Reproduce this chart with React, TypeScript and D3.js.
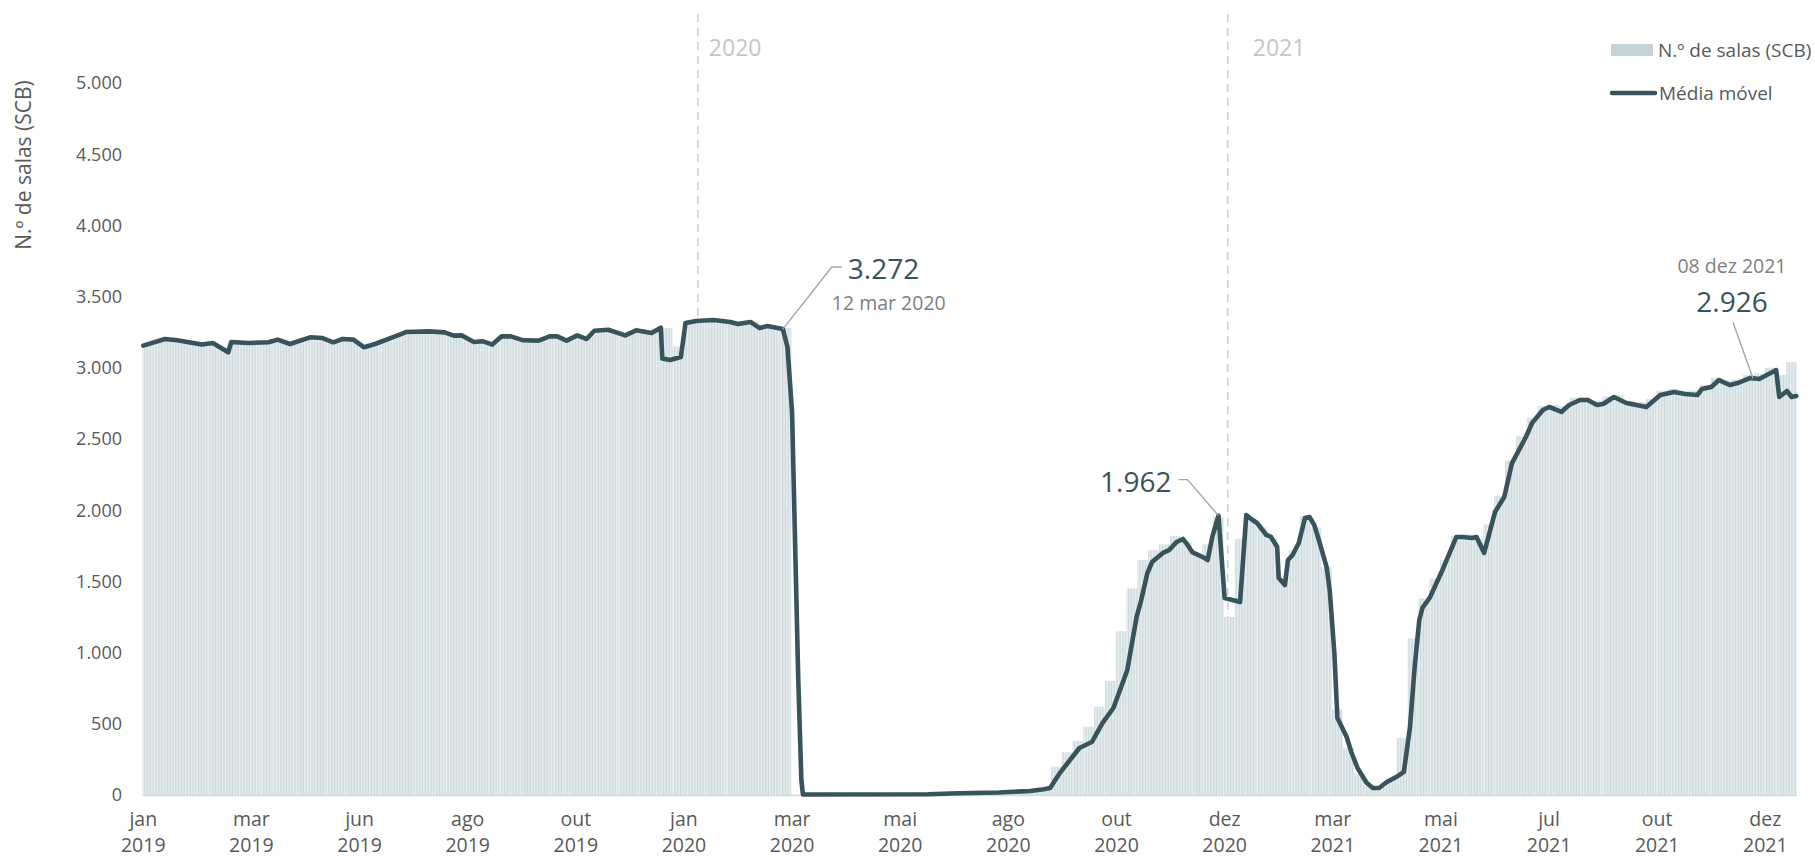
import * as d3 from "d3";

// Nº de salas (SCB) — cada categoria é um dia, etiqueta a cada 70 dias
const N_DAYS = 1071;
const TICK_STEP = 70;
const tickMonth = ["jan", "mar", "jun", "ago", "out", "jan", "mar", "mai", "ago", "out", "dez", "mar", "mai", "jul", "out", "dez"];
const tickYear = ["2019", "2019", "2019", "2019", "2019", "2020", "2020", "2020", "2020", "2020", "2020", "2021", "2021", "2021", "2021", "2021"];
const yTicks = [0, 500, 1000, 1500, 2000, 2500, 3000, 3500, 4000, 4500, 5000];

// salas por semana (barras)
const salasSemana = [
  3170, 3195, 3200, 3190, 3175, 3165, 3175, 3140, 3180, 3175,
  3175, 3180, 3200, 3170, 3190, 3215, 3210, 3185, 3200, 3195,
  3150, 3170, 3200, 3225, 3250, 3255, 3255, 3250, 3235, 3228,
  3190, 3186, 3170, 3220, 3215, 3193, 3191, 3215, 3215, 3200,
  3225, 3230, 3265, 3260, 3235, 3255, 3250, 3275, 3280, 3150,
  3330, 3340, 3345, 3340, 3325, 3320, 3325, 3300, 3295, 3280,
  0, 3, 3, 3, 3, 3, 3, 3, 3, 3,
  4, 5, 7, 8, 11, 12, 15, 16, 18, 22,
  25, 28, 35, 45, 200, 300, 380, 480, 620, 800,
  1150, 1450, 1650, 1720, 1760, 1820, 1780, 1700, 1760, 1950,
  1250, 1800, 1950, 1880, 1800, 1520, 1720, 1960, 1880, 1600,
  600, 330, 150, 60, 55, 110, 400, 1100, 1380, 1520,
  1650, 1820, 1830, 1800, 1900, 2100, 2350, 2520, 2650, 2730,
  2740, 2730, 2790, 2790, 2770, 2800, 2810, 2770, 2760, 2780,
  2840, 2850, 2840, 2840, 2880, 2930, 2910, 2920, 2950, 2960,
  3000, 2950, 3040,
];

// média móvel: dia (índice) e valor
const mmDia = [
  0, 14, 22, 38, 45, 55, 57, 68, 81, 87, 95, 108, 116, 123, 129, 136, 143, 150, 163, 170,
  185, 195, 201, 206, 214, 220, 226, 232, 238, 246, 256, 263, 268, 274, 281, 287, 292, 301, 312, 319,
  329, 335, 336, 341, 348, 351, 358, 369, 380, 385, 393, 399, 404, 414, 417, 420, 422, 424, 426, 427,
  508, 528, 554, 574, 583, 587, 593, 606, 614, 621, 628, 633, 637, 643, 646, 650, 653, 660, 664, 669,
  673, 676, 679, 687, 689, 692, 696, 700, 710, 714, 718, 721, 727, 730, 734, 735, 739, 741, 744, 748,
  752, 755, 758, 761, 766, 768, 771, 773, 779, 782, 786, 792, 796, 800, 805, 811, 816, 820, 823, 826,
  828, 833, 841, 850, 854, 860, 863, 868, 875, 879, 881, 886, 895, 899, 906, 910, 918, 923, 930, 935,
  941, 945, 952, 960, 973, 982, 991, 998, 1006, 1009, 1015, 1020, 1027, 1032, 1040, 1042, 1046, 1051, 1057, 1059,
  1064, 1067, 1070,
];
const mmValor = [
  3156, 3202, 3193, 3163, 3174, 3109, 3181, 3174, 3179, 3198, 3167, 3214, 3209, 3179, 3202, 3198, 3144, 3167, 3221, 3251,
  3256, 3249, 3226, 3228, 3181, 3186, 3163, 3221, 3221, 3193, 3191, 3221, 3221, 3191, 3228, 3202, 3260, 3267, 3228, 3263,
  3244, 3282, 3065, 3055, 3076, 3315, 3329, 3336, 3322, 3307, 3322, 3279, 3293, 3272, 3146, 2683, 1742, 808, 105, 3,
  5, 12, 18, 28, 40, 49, 150, 330, 372, 506, 611, 758, 878, 1250, 1369, 1559, 1636, 1700, 1720, 1777,
  1798, 1756, 1706, 1664, 1650, 1812, 1962, 1383, 1355, 1966, 1931, 1910, 1826, 1812, 1742, 1524, 1475, 1650, 1685, 1770,
  1945, 1952, 1896, 1791, 1601, 1440, 1000, 541, 407, 302, 190, 84, 49, 49, 91, 126, 162, 478, 899, 1229,
  1313, 1390, 1580, 1812, 1812, 1805, 1812, 1700, 1987, 2058, 2093, 2331, 2514, 2612, 2704, 2725, 2690, 2739, 2774, 2774,
  2739, 2746, 2795, 2753, 2725, 2809, 2830, 2816, 2809, 2851, 2865, 2914, 2879, 2893, 2928, 2926, 2921, 2949, 2984, 2795,
  2837, 2795, 2802,
];

const anoDia = [359, 702];
const anoLabel = ["2020", "2021"];

const destaqueDia = [414, 696, 1042];
const destaqueValor = [3272, 1962, 2926];
const destaqueData = ["12 mar 2020", "", "08 dez 2021"];

const W = 1815;
const H = 861;
const FONT = "'Segoe UI', 'Open Sans', sans-serif";
const LINE = "#38535b";
const AXIS_TXT = "#595959";

export default function App() {
  const x = d3.scaleLinear().domain([0, N_DAYS]).range([142.5, 1797]);
  const y = d3.scaleLinear().domain([0, 5000]).range([795, 83]);
  const dayW = x(1) - x(0);
  const fmt = (v: number) => d3.format(",")(v).replace(/,/g, ".");

  const mmLine = d3.line<number>()
    .x((_, i) => x(mmDia[i] + 0.5))
    .y(v => y(v));

  const [p1, p2, p3] = destaqueDia.map((d, i) => ({ x: x(d + 0.5), y: y(destaqueValor[i]) }));

  return (
    <svg width={W} height={H} style={{ position: "absolute", left: 0, top: 0, fontFamily: FONT }}>
      <defs>
        <pattern id="dias" patternUnits="userSpaceOnUse" x={x(0)} y={0} width={dayW} height={8}>
          <rect width={dayW} height={8} fill="#eef3f4" />
          <rect width={dayW * 0.55} height={8} fill="#cbd8dc" />
        </pattern>
      </defs>

      {/* linhas de ano */}
      {anoDia.map((d, i) => (
        <g key={d}>
          <line x1={x(d + 0.5)} x2={x(d + 0.5)} y1={14} y2={y(0)}
            stroke="#cfcfcf" strokeWidth={1.6} strokeDasharray="8 6" />
          <text x={x(d + 0.5) + (i === 0 ? 11 : 25)} y={56} fontSize={23} fill="#c6c6c6">{anoLabel[i]}</text>
        </g>
      ))}

      {/* barras semanais */}
      {salasSemana.map((v, w) => {
        const d0 = w * 7;
        const d1 = Math.min(d0 + 7, N_DAYS);
        return (
          <rect key={w} x={x(d0)} width={x(d1) - x(d0)} y={y(v)} height={y(0) - y(v)} fill="url(#dias)" />
        );
      })}

      {/* eixo x */}
      <line x1={x(0)} x2={x(N_DAYS)} y1={y(0) + 0.5} y2={y(0) + 0.5} stroke="#d9d9d9" strokeWidth={1.5} />
      {tickMonth.map((m, i) => (
        <text key={i} x={x(i * TICK_STEP + 0.5)} textAnchor="middle" fontSize={19.5} fill={AXIS_TXT}>
          <tspan x={x(i * TICK_STEP + 0.5)} y={826}>{m}</tspan>
          <tspan x={x(i * TICK_STEP + 0.5)} y={852}>{tickYear[i]}</tspan>
        </text>
      ))}

      {/* eixo y */}
      {yTicks.map(t => (
        <text key={t} x={122} y={y(t)} dy="0.35em" textAnchor="end" fontSize={18} fill={AXIS_TXT}>{fmt(t)}</text>
      ))}
      <text transform={`translate(31,165) rotate(-90)`} textAnchor="middle" fontSize={21} fill={AXIS_TXT}>
        N.º de salas  (SCB)
      </text>

      {/* média móvel */}
      <path d={mmLine(mmValor) ?? ""} fill="none" stroke={LINE} strokeWidth={4.6}
        strokeLinejoin="round" strokeLinecap="round" />

      {/* destaques */}
      <g fill="none" stroke="#a6a6a6" strokeWidth={1.4}>
        <polyline points={`${p1.x},${p1.y} ${p1.x + 49},${p1.y - 62} ${p1.x + 59},${p1.y - 62}`} />
        <polyline points={`${p2.x},${p2.y} ${p2.x - 31},${p2.y - 36} ${p2.x - 40},${p2.y - 36}`} />
        <polyline points={`${p3.x},${p3.y} ${p3.x - 20},${p3.y - 56}`} />
      </g>
      <text x={p1.x + 65} y={p1.y - 50} fontSize={28} fill={LINE}>{fmt(destaqueValor[0])}</text>
      <text x={p1.x + 49} y={p1.y - 19} fontSize={19.5} fill="#7f7f7f">{destaqueData[0]}</text>
      <text x={p2.x - 47} y={p2.y - 24} textAnchor="end" fontSize={28} fill={LINE}>{fmt(destaqueValor[1])}</text>
      <text x={p3.x - 21} y={p3.y - 66} textAnchor="middle" fontSize={28} fill={LINE}>{fmt(destaqueValor[2])}</text>
      <text x={p3.x - 21} y={p3.y - 105} textAnchor="middle" fontSize={19.5} fill="#7f7f7f">{destaqueData[2]}</text>

      {/* legenda */}
      <rect x={1611} y={44} width={42} height={12} fill="#c5d2d6" />
      <text x={1658} y={50} dy="0.35em" fontSize={19} fill={AXIS_TXT}>N.º de salas (SCB)</text>
      <line x1={1612} x2={1655} y1={93} y2={93} stroke={LINE} strokeWidth={4.5} strokeLinecap="round" />
      <text x={1659} y={93} dy="0.35em" fontSize={19} fill={AXIS_TXT}>Média móvel</text>
    </svg>
  );
}
